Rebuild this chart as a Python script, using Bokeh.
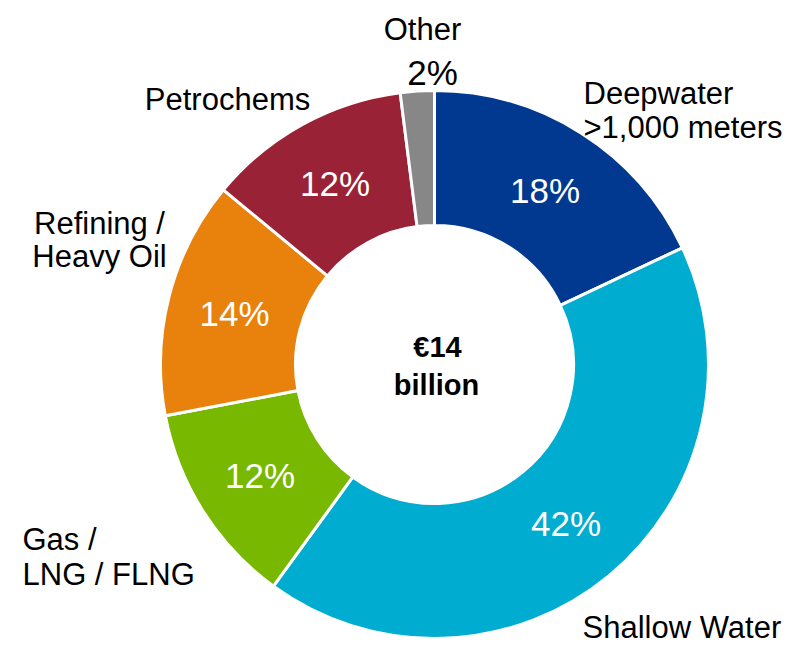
import numpy as np
from bokeh.plotting import figure
from bokeh.models import Range1d, ColumnDataSource
from bokeh.core.properties import value
from bokeh.embed import file_html
from bokeh.resources import INLINE

# ---- data ----
categories = ["Deepwater", "Shallow Water", "Gas / LNG / FLNG", "Refining / Heavy Oil", "Petrochems", "Other"]
shares = [18, 42, 12, 14, 12, 2]
pct_labels = ["18%", "42%", "12%", "14%", "12%", "2%"]
colors = ["#00398F", "#00ACCF", "#78B800", "#E8820C", "#9A2236", "#878787"]
total_text = ["€14", "billion"]

# ---- layout (reference pixels -> data: x = px, y = 658 - py), view shifted up 4px ----
W, H = 791, 642
TOP = 4
p = figure(width=W, height=H, output_backend="svg", toolbar_location=None,
           title=None,
           x_range=Range1d(0, W), y_range=Range1d(658 - TOP - H, 658 - TOP),
           x_axis_type=None, y_axis_type=None,
           min_border=0, min_border_left=0, min_border_right=0,
           min_border_top=0, min_border_bottom=0)
p.grid.visible = False
p.outline_line_color = None
p.background_fill_color = "white"
p.border_fill_color = "white"

cx, cy = 434, 658 - 368
r_in, r_out = 139, 274

vals = np.array(shares, dtype=float)
frac = vals / vals.sum()
cum = np.concatenate([[0], np.cumsum(frac)])
# clockwise from 12 o'clock
start = np.pi / 2 - cum[1:] * 2 * np.pi
end = np.pi / 2 - cum[:-1] * 2 * np.pi

src = ColumnDataSource(dict(start=start, end=end, color=colors))
p.annular_wedge(x=cx, y=cy, inner_radius=r_in, outer_radius=r_out,
                start_angle="start", end_angle="end", fill_color="color",
                line_color="white", line_width=3, source=src)

# percentage labels inside slices (all but the last, tiny one)
mid = (start + end) / 2
r_mid = (r_in + r_out) / 2
lx = cx + r_mid * np.cos(mid[:-1])
ly = cy + r_mid * np.sin(mid[:-1])
p.text(x=lx, y=ly, text=pct_labels[:-1], text_color="white",
       text_font=value("Liberation Sans"), text_font_size="35px",
       text_align="center", text_baseline="middle")

# small slice label outside
p.text(x=[432], y=[658 - 76], text=[pct_labels[-1]], text_color="black",
       text_font=value("Liberation Sans"), text_font_size="35px",
       text_align="center", text_baseline="alphabetic")

# centre text
p.text(x=[437, 436], y=[658 - 350, 658 - 388], text=total_text, text_color="black",
       text_font=value("Liberation Sans"), text_font_style="bold", text_font_size="29px",
       text_align="center", text_baseline="alphabetic")

# category labels (screen positions of label anchors)
lab_font = dict(text_font=value("Liberation Sans"), text_font_size="31px",
                text_color="black", text_baseline="alphabetic")
p.text(x=[422], y=[658 - 33], text=["Other"], text_align="center", **lab_font)
p.text(x=[227], y=[658 - 103], text=["Petrochems"], text_align="center", **lab_font)
p.text(x=[583, 583], y=[658 - 97, 658 - 131], text=["Deepwater", ">1,000 meters"],
       text_align="left", **lab_font)
p.text(x=[99, 99], y=[658 - 227, 658 - 260], text=["Refining /", "Heavy Oil"],
       text_align="center", **lab_font)
p.text(x=[22, 22], y=[658 - 543, 658 - 578], text=["Gas /", "LNG / FLNG"],
       text_align="left", **lab_font)
p.text(x=[582], y=[658 - 631], text=["Shallow Water"], text_align="left", **lab_font)

open("out.html", "w").write(file_html(p, INLINE))
